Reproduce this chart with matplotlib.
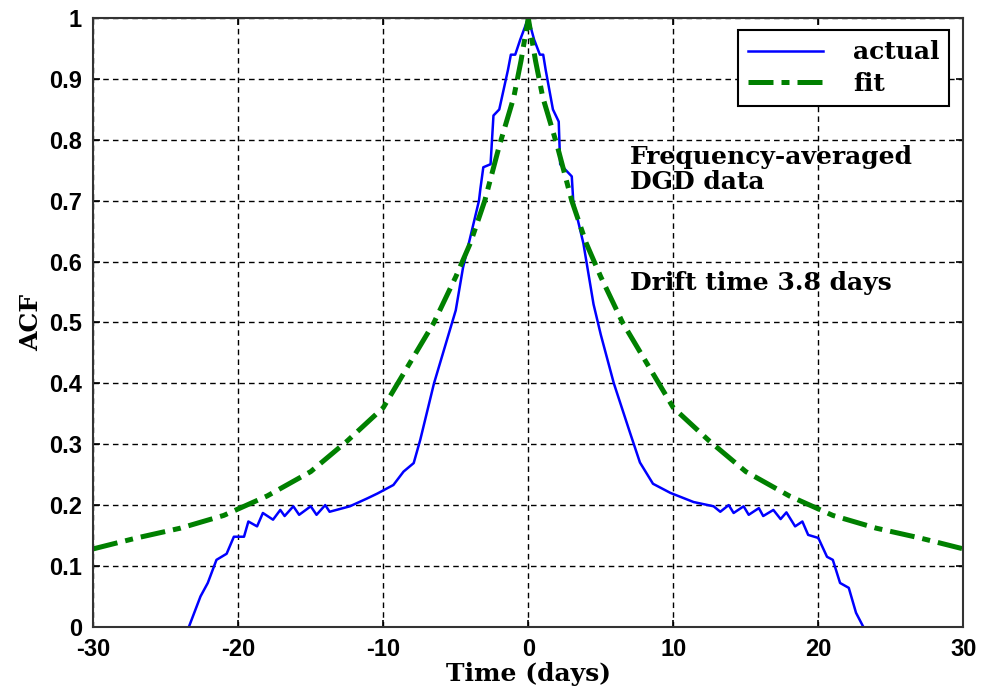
import matplotlib
matplotlib.use("Agg")
from matplotlib import pyplot as plt

plt.rcParams["axes.unicode_minus"] = False

# actual ACF
t_actual = [-23.4, -22.6, -22.1, -21.5, -20.8, -20.3, -19.6, -19.3, -18.7, -18.3,
            -17.6, -17.1, -16.8, -16.2, -15.8, -15.0, -14.6, -14.0, -13.7, -12.3,
            -11.1, -10.4, -9.3, -8.6, -7.9, -7.45, -6.5, -5.4, -5.0, -4.5,
            -4.1, -3.4, -3.3, -3.1, -2.6, -2.4, -2.0, -1.4, -1.2, -0.9,
            -0.55, 0.0, 0.4, 0.8, 1.03, 1.2, 1.7, 2.1, 2.2, 3.0,
            3.1, 3.8, 4.5, 5.0, 5.9, 7.0, 7.7, 8.6, 9.8, 11.4,
            12.78, 13.24, 13.82, 14.16, 14.85, 15.2, 15.9, 16.2, 16.9, 17.4,
            17.8, 18.4, 18.9, 19.3, 20.0, 20.6, 21.0, 21.5, 22.1, 22.6, 23.1]
v_actual = [0.0, 0.05, 0.072, 0.11, 0.12, 0.148, 0.148, 0.173, 0.165, 0.187,
            0.176, 0.192, 0.182, 0.198, 0.184, 0.198, 0.184, 0.200, 0.189, 0.198,
            0.211, 0.219, 0.233, 0.255, 0.269, 0.307, 0.40, 0.488, 0.52, 0.59,
            0.63, 0.70, 0.72, 0.755, 0.76, 0.84, 0.85, 0.915, 0.94, 0.94,
            0.965, 1.0, 0.965, 0.94, 0.94, 0.915, 0.85, 0.83, 0.76, 0.74,
            0.70, 0.63, 0.53, 0.48, 0.40, 0.32, 0.27, 0.235, 0.22, 0.205,
            0.198, 0.189, 0.200, 0.187, 0.198, 0.184, 0.195, 0.182, 0.192, 0.177,
            0.188, 0.165, 0.173, 0.151, 0.146, 0.115, 0.11, 0.072, 0.064, 0.023, 0.0]

# fitted ACF
t_fit = [-30, -27, -24, -21, -18, -15, -12.5, -10, -8, -6.5, -5, -4, -3, -2, -1, -0.5, 0,
         0.5, 1, 2, 3, 4, 5, 6.5, 8, 10, 12.5, 15, 18, 21, 24, 27, 30]
v_fit = [0.128, 0.146, 0.162, 0.183, 0.215, 0.255, 0.305, 0.36, 0.44, 0.50, 0.575, 0.63, 0.70, 0.79, 0.87, 0.93, 1.0,
         0.93, 0.87, 0.79, 0.70, 0.63, 0.575, 0.50, 0.44, 0.36, 0.305, 0.255, 0.215, 0.183, 0.162, 0.146, 0.128]

x_ticks = [-30, -20, -10, 0, 10, 20, 30]
y_ticks = [0, 0.1, 0.2, 0.3, 0.4, 0.5, 0.6, 0.7, 0.8, 0.9, 1]
y_tick_labels = ["0", "0.1", "0.2", "0.3", "0.4", "0.5", "0.6", "0.7", "0.8", "0.9", "1"]

fig = plt.figure(figsize=(9.81, 6.98), dpi=100)
ax = fig.add_axes([0.095, 0.102, 0.887, 0.872])

ax.plot(t_actual, v_actual, color=(0, 0, 1), lw=1.8, label="actual")
ax.plot(t_fit, v_fit, color=(0, 0.5, 0), lw=3.6,
        linestyle=(0, (5, 1.6, 1.6, 1.6)), label="fit")

ax.set_xlim(-30, 30)
ax.set_ylim(0, 1)
ax.set_xticks(x_ticks)
ax.set_yticks(y_ticks)
ax.set_yticklabels(y_tick_labels)
ax.grid(True, color="black", linestyle=(0, (4, 3)), linewidth=1.0)
ax.tick_params(direction="in", top=True, right=True, length=5, width=1.2, pad=8)
for lab in ax.get_xticklabels() + ax.get_yticklabels():
    lab.set_fontfamily("Liberation Sans")
    lab.set_fontweight("bold")
    lab.set_fontsize(17)
for sp in ax.spines.values():
    sp.set_linewidth(1.5)
    sp.set_color("#333333")

ax.set_xlabel("Time (days)", fontfamily="DejaVu Serif", fontweight="bold", fontsize=18, labelpad=1)
ax.set_ylabel("ACF", fontfamily="DejaVu Serif", fontweight="bold", fontsize=18, labelpad=4)

ax.text(7.0, 0.72, "Frequency-averaged\nDGD data", fontfamily="DejaVu Serif", fontweight="bold",
        fontsize=18, va="baseline", linespacing=1.05)
ax.text(7.0, 0.553, "Drift time 3.8 days", fontfamily="DejaVu Serif", fontweight="bold",
        fontsize=18, va="baseline")

leg = ax.legend(loc="upper right", bbox_to_anchor=(0.984, 0.980), borderaxespad=0,
                fancybox=False, framealpha=1, edgecolor="black", handlelength=3.0,
                borderpad=0.4, handletextpad=1.2, labelspacing=0.3,
                prop={"family": "DejaVu Serif", "weight": "bold", "size": 18})
leg.get_frame().set_linewidth(1.5)

fig.savefig("out.png", dpi=100)
